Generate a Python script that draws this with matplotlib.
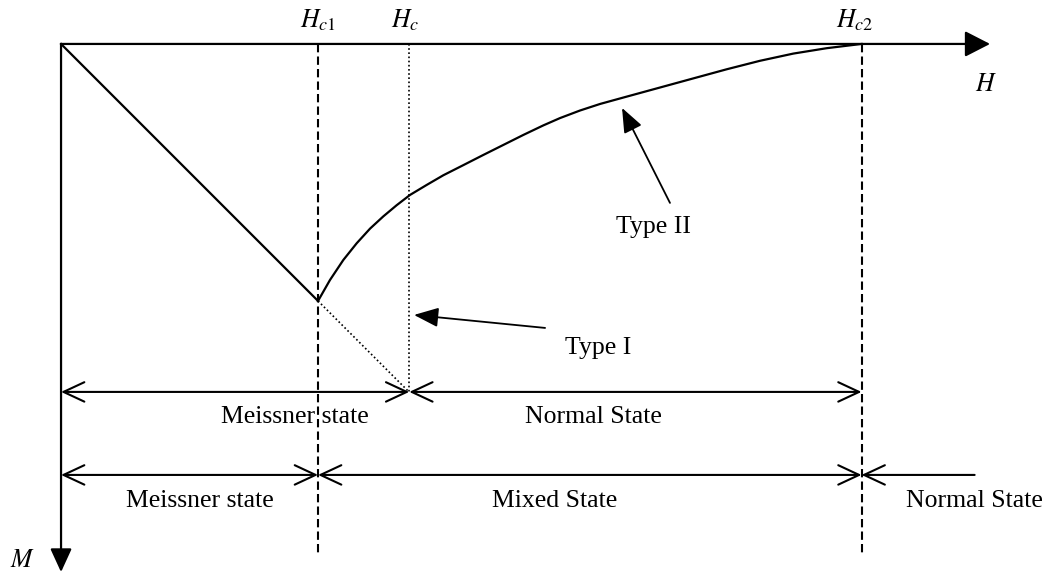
import matplotlib.pyplot as plt

plt.rcParams['mathtext.fontset'] = 'stix'
plt.rcParams['font.family'] = ['Liberation Serif', 'DejaVu Serif']

# critical fields (arbitrary units, M = -H in the Meissner state)
H_C1 = 2.0
H_C = 2.71
H_C2 = 6.23
H_MAX = 7.23
M_MAX = 4.11

# measured type II magnetisation between Hc1 and Hc2
type2_H = [2.0, 2.093, 2.197, 2.301, 2.405, 2.508, 2.612, 2.716, 2.846, 2.975,
           3.131, 3.286, 3.442, 3.598, 3.753, 3.883, 4.039, 4.195, 4.402, 4.658,
           4.921, 5.181, 5.440, 5.699, 5.959, 6.23]
type2_M = [-2.0, -1.837, -1.681, -1.551, -1.437, -1.342, -1.255, -1.175, -1.097, -1.022,
           -0.943, -0.864, -0.786, -0.708, -0.634, -0.577, -0.518, -0.467, -0.410, -0.340,
           -0.268, -0.197, -0.131, -0.075, -0.033, 0.0]

# state bands below the curve
row1_edges = [0.0, H_C, H_C2]
row1_names = ['Meissner state', 'Normal State']
row1_text_x = [1.82, 4.14]
row2_edges = [0.0, H_C1, H_C2, 7.11]
row2_names = ['Meissner state', 'Mixed State', 'Normal State']
row2_text_x = [1.08, 3.84, 7.11]

fig = plt.figure(figsize=(10.57, 5.74), dpi=100)
ax = fig.add_axes([0, 0, 1, 1])
ax.set_xlim(-0.475, 7.751)
ax.set_ylim(-4.125, 0.342)
ax.axis('off')

lw = 1.6
fs = 18.5


def arrow(ax, start, end, style, lw=lw, scale=20):
    ax.annotate('', xy=end, xytext=start,
                arrowprops=dict(arrowstyle=style, lw=lw, color='black',
                                shrinkA=0, shrinkB=0, mutation_scale=scale))


# axes with filled heads
arrow(ax, (0, 0), (H_MAX, 0), '-|>,head_length=0.78,head_width=0.4')
arrow(ax, (0, 0), (0, -M_MAX), '-|>,head_length=0.72,head_width=0.33')

# Meissner line and its dotted extension for type I
ax.plot([0, H_C1], [0, -H_C1], color='black', lw=lw)
ax.plot([H_C1, H_C], [-H_C1, -H_C], color='black', lw=1.2, linestyle=(0, (1, 1.5)))
ax.plot(type2_H, type2_M, color='black', lw=lw, solid_joinstyle='round')

# field markers
line_bottom = -3.977
ax.plot([H_C1, H_C1], [0, line_bottom], color='black', lw=1.5, dashes=(4, 2))
ax.plot([H_C2, H_C2], [0, line_bottom], color='black', lw=1.5, dashes=(4, 2))
ax.plot([H_C, H_C], [0, -H_C], color='black', lw=1.2, linestyle=(0, (1, 1.5)))

ax.text(H_C1, 0.132, r'$H_{c1}$', ha='center', va='baseline', fontsize=fs)
ax.text(H_C - 0.03, 0.132, r'$H_c$', ha='center', va='baseline', fontsize=fs)
ax.text(H_C2 - 0.05, 0.132, r'$H_{c2}$', ha='center', va='baseline', fontsize=fs)
ax.text(7.2, -0.366, r'$H$', ha='center', va='baseline', fontsize=fs)
ax.text(-0.30, -4.07, r'$M$', ha='center', va='baseline', fontsize=fs)

# pointers to the two curves
arrow(ax, (4.739, -1.237), (4.366, -0.498), '-|>,head_length=0.75,head_width=0.3', lw=1.3)
ax.text(4.607, -1.424, 'Type II', ha='center', va='center', fontsize=fs)
arrow(ax, (3.767, -2.210), (2.747, -2.109), '-|>,head_length=0.75,head_width=0.3', lw=1.3)
ax.text(4.179, -2.37, 'Type I', ha='center', va='center', fontsize=fs)

# state bands
open_head = 'head_length=0.75,head_width=0.35'
y1, y2 = -2.708, -3.354
for a, b in zip(row1_edges[:-1], row1_edges[1:]):
    arrow(ax, (a, y1), (b, y1), '<->,' + open_head, lw=1.5)
for name, x in zip(row1_names, row1_text_x):
    ax.text(x, -2.949, name, ha='center', va='baseline', fontsize=fs)

for i, (a, b) in enumerate(zip(row2_edges[:-1], row2_edges[1:])):
    style = '<->,' if i < len(row2_edges) - 2 else '<-,'
    arrow(ax, (a, y2), (b, y2), style + open_head, lw=1.5)
for name, x in zip(row2_names, row2_text_x):
    ax.text(x, -3.603, name, ha='center', va='baseline', fontsize=fs)

fig.savefig('out.png', dpi=100)
